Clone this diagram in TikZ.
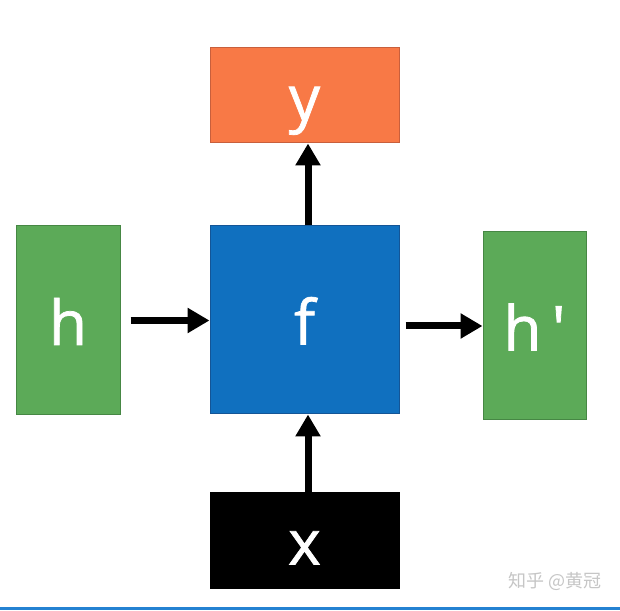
\documentclass[tikz,border=0pt]{standalone}
\usepackage{fontspec}
\setmainfont{Open Sans}
\newfontfamily\boxfont{Open Sans}[FakeBold=1.2]
\newfontfamily\cjk{Noto Sans CJK SC}
\usetikzlibrary{arrows.meta,positioning}
\definecolor{orangefill}{RGB}{248,121,70}
\definecolor{orangeline}{RGB}{200,95,60}
\definecolor{greenfill}{RGB}{92,170,88}
\definecolor{greenline}{RGB}{70,135,68}
\definecolor{bluefill}{RGB}{16,112,191}
\definecolor{blueline}{RGB}{20,85,150}
\definecolor{barblue}{RGB}{36,130,210}

\begin{document}
\begin{tikzpicture}[x=1pt,y=1pt,
  cell/.style={shape=rectangle,draw,line width=1pt,inner sep=0pt,text=white,
    font=\boxfont\fontsize{62}{62}\selectfont,text height=49pt,text depth=0pt},
  flow/.style={arrows={-Triangle[length=22pt,width=24pt]},line width=7pt}]
\useasboundingbox (0,0) rectangle (620,610);
\fill[white] (0,0) rectangle (620,610);
\fill[barblue] (0,0) rectangle (620,3);

\node[cell,fill=orangefill,draw=orangeline,minimum width=189pt,minimum height=95pt] (Y) at (304.5,514.5) {y};
\node[cell,fill=greenfill,draw=greenline,minimum width=104pt,minimum height=189pt] (H) at (68,289.5) {h};
\node[cell,fill=bluefill,draw=blueline,minimum width=189pt,minimum height=188pt] (F) at (304.5,290) {f};
\node[cell,fill=greenfill,draw=greenline,minimum width=103pt,minimum height=188pt] (Hp) at (534.5,284) {h\,\textquotesingle};
\node[cell,fill=black,draw=black,minimum width=189pt,minimum height=96pt] (X) at (304.5,70) {x};

\draw[flow,shorten <=10pt] (H.east) -- (F.west |- H.east);
\draw[flow,shorten <=6pt] (F.east |- Hp.west) -- (Hp.west);
\draw[flow] ([xshift=3.5pt]F.north) -- ([xshift=3.5pt]Y.south);
\draw[flow] ([xshift=3.5pt]X.north) -- ([xshift=3.5pt]F.south);

\node[text=gray!45,font=\cjk\fontsize{18}{18}\selectfont] (W) at (555,29) {知乎 @黄冠};
\end{tikzpicture}
\end{document}
